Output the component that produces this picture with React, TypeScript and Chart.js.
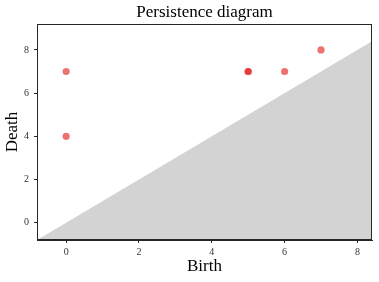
import React, { useEffect, useRef } from "react";
import { Chart, registerables } from "chart.js";
Chart.register(...registerables);

const births = [0, 0, 5, 5, 6, 7];
const deaths = [7, 4, 7, 7, 7, 8];
const diagonalX = [-0.8, 8.4];
const xTicks = [0, 2, 4, 6, 8];
const yTicks = [0, 2, 4, 6, 8];
const titleText = "Persistence diagram";

const FONT = "'Liberation Serif', 'DejaVu Serif', serif";

const boxPlugin = {
  id: "box",
  afterDraw(chart: any) {
    const { ctx, chartArea } = chart;
    ctx.save();
    ctx.strokeStyle = "#262626";
    ctx.lineWidth = 1;
    ctx.strokeRect(chartArea.left + 0.5, chartArea.top + 0.5, chartArea.right - chartArea.left - 1, chartArea.bottom - chartArea.top - 1);
    ctx.fillStyle = "#000";
    ctx.font = `17px ${FONT}`;
    ctx.textAlign = "center";
    ctx.textBaseline = "middle";
    ctx.fillText(titleText, (chartArea.left + chartArea.right) / 2, 13);
    ctx.restore();
  },
};

export default function App() {
  const ref = useRef<HTMLCanvasElement>(null);
  useEffect(() => {
    document.body.style.margin = "0";
    const chart = new Chart(ref.current!, {
      type: "scatter",
      data: {
        datasets: [
          {
            type: "line",
            data: diagonalX.map((v) => ({ x: v, y: v })),
            fill: "start",
            backgroundColor: "#d3d3d3",
            borderWidth: 0,
            pointRadius: 0,
            order: 2,
          } as any,
          {
            data: births.map((b, i) => ({ x: b, y: deaths[i] })),
            backgroundColor: "rgba(228, 26, 28, 0.62)",
            borderWidth: 0,
            pointRadius: 3.6,
            order: 1,
          },
        ],
      },
      options: {
        animation: false,
        responsive: false,
        layout: { padding: { left: 0, right: 7, top: 24, bottom: 5 } },
        plugins: {
          legend: { display: false },
          tooltip: { enabled: false },
          title: { display: false },
        },
        scales: {
          x: {
            type: "linear",
            min: -0.8,
            max: 8.4,
            afterBuildTicks: (axis: any) => {
              axis.ticks = xTicks.map((v) => ({ value: v }));
            },
            afterFit: (axis: any) => {
              axis.height = 37;
            },
            grid: { drawOnChartArea: false, drawTicks: true, tickLength: 3, color: "#262626" },
            border: { display: true, color: "#262626" },
            ticks: { color: "#333", font: { family: FONT, size: 10 }, padding: 3, maxRotation: 0 },
            title: {
              display: true,
              text: "Birth",
              color: "#000",
              font: { family: FONT, size: 17 },
              padding: { top: 0, bottom: 0 },
            },
          },
          y: {
            type: "linear",
            min: -0.8,
            max: 9.2,
            afterBuildTicks: (axis: any) => {
              axis.ticks = yTicks.map((v) => ({ value: v }));
            },
            afterFit: (axis: any) => {
              axis.width = 37;
            },
            grid: { drawOnChartArea: false, drawTicks: true, tickLength: 3, color: "#262626" },
            border: { display: true, color: "#262626" },
            ticks: { color: "#333", font: { family: FONT, size: 10 }, padding: 5 },
            title: {
              display: true,
              text: "Death",
              color: "#000",
              font: { family: FONT, size: 17 },
              padding: { top: 2, bottom: 0 },
            },
          },
        },
      },
      plugins: [boxPlugin],
    });
    return () => chart.destroy();
  }, []);
  return (
    <div style={{ width: 379, height: 282 }}>
      <canvas ref={ref} width={379} height={282} />
    </div>
  );
}
